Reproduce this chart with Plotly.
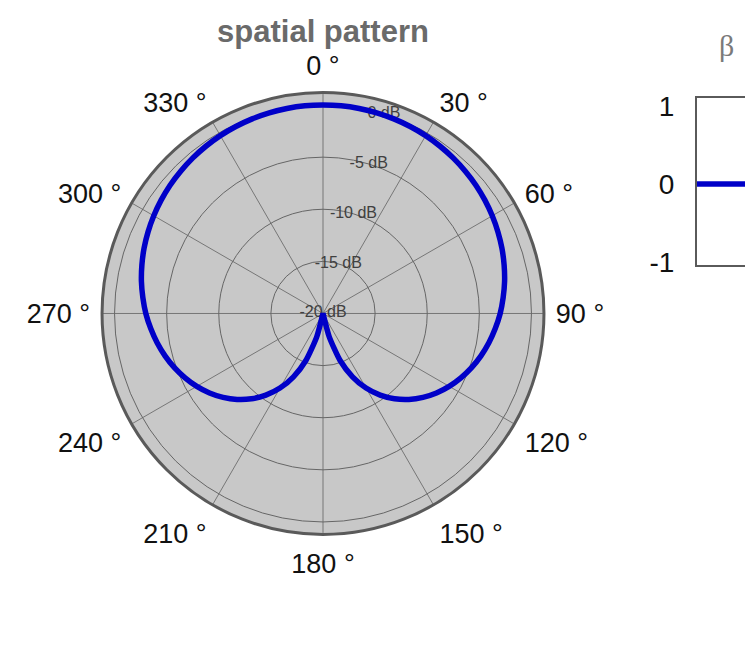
import plotly.graph_objects as go

# ---- data ----
theta_deg = [0, 5, 10, 15, 20, 25, 30, 35, 40, 45, 50, 55, 60, 65, 70, 75, 80, 85, 90,
             95, 100, 105, 110, 115, 120, 125, 130, 135, 140, 145, 150, 155, 160, 165, 170, 175, 180]
gain_db_right = [0.0, 0.0, -0.03, -0.07, -0.13, -0.21, -0.3, -0.41, -0.54, -0.69, -0.85, -1.04,
                 -1.25, -1.48, -1.73, -2.01, -2.31, -2.65, -3.0, -3.41, -3.84, -4.31, -4.83,
                 -5.4, -6.02, -6.71, -7.48, -8.34, -9.32, -10.44, -11.74, -13.3, -15.2,
                 -17.68, -20.0, -20.0, -20.0]
# full circle (left half mirrors the right half)
theta_full = theta_deg + [360 - t for t in reversed(theta_deg[:-1])]
gain_full = gain_db_right + list(reversed(gain_db_right[:-1]))

radial_ticks = [-20, -15, -10, -5, 0]
radial_labels = ["-20 dB", "-15 dB", "-10 dB", "-5 dB", "0 dB"]
angle_ticks = list(range(0, 360, 30))
angle_labels = [f"{a} °" for a in angle_ticks]

beta_x = [0, 1]
beta_y = [0, 0]
beta_ticks = [-1, 0, 1]
beta_ticktext = ["-1", "0", "1"]

W, H = 753, 648
OFF = 8  # page body margin offset compensation
BLUE = "#0000c8"


def px(x):
    return (x - OFF) / W


def py(y):
    return 1 - (y - OFF) / H


fig = go.Figure()

# radial labels along a fixed spoke (under the curve)
fig.add_trace(go.Scatterpolar(
    r=radial_ticks, theta=[17] * len(radial_ticks), mode="text",
    text=radial_labels, textposition="middle center",
    textfont=dict(family="Liberation Sans, Arial", size=16, color="#404040"),
    hoverinfo="skip", showlegend=False, subplot="polar"))

fig.add_trace(go.Scatterpolar(
    r=gain_full, theta=theta_full, mode="lines",
    line=dict(color=BLUE, width=5.5, shape="spline", smoothing=0.6),
    showlegend=False, subplot="polar"))

fig.add_trace(go.Scatter(
    x=beta_x, y=beta_y, mode="lines", line=dict(color=BLUE, width=5.5),
    showlegend=False, xaxis="x", yaxis="y"))

cx, cy, R = 323, 316, 228
fig.update_layout(
    width=W, height=H,
    margin=dict(l=0, r=0, t=0, b=0),
    paper_bgcolor="white", plot_bgcolor="white",
    font=dict(family="Liberation Sans, Arial", color="#111111"),
    title=dict(text="<b>spatial pattern</b>", x=px(cx), y=py(31),
               xanchor="center", yanchor="middle",
               font=dict(family="Liberation Sans, Arial", size=31, color="#6a6a6a")),
    polar=dict(
        domain=dict(x=[px(cx - R), px(cx + R)], y=[py(cy + R), py(cy - R)]),
        bgcolor="#c8c8c8",
        angularaxis=dict(
            rotation=90, direction="clockwise",
            tickmode="array", tickvals=angle_ticks, ticktext=angle_labels,
            tickfont=dict(size=27, color="#111111"),
            ticks="outside", ticklen=5, tickcolor="rgba(0,0,0,0)",
            showline=True, linecolor="#5a5a5a", linewidth=3,
            showgrid=True, gridcolor="#777777", gridwidth=1),
        radialaxis=dict(
            range=[-20, 1.2], tickmode="array", tickvals=[-15, -10, -5, 0],
            showticklabels=False, ticks="", showline=False,
            showgrid=True, gridcolor="#666666", gridwidth=1)),
    xaxis=dict(domain=[px(697), 1], range=[0, 1], showticklabels=False, ticks="",
               showgrid=False, zeroline=False, showline=True, mirror=True,
               linecolor="#5a5a5a", linewidth=2, fixedrange=True),
    yaxis=dict(domain=[py(266), py(94)], range=[-1.04, 1.1],
               tickmode="array", tickvals=beta_ticks, ticktext=beta_ticktext,
               tickfont=dict(size=28, color="#111111"),
               ticks="", ticklabelstandoff=15,
               showgrid=False, zeroline=False, showline=True, mirror=False,
               linecolor="#5a5a5a", linewidth=2, fixedrange=True),
    annotations=[dict(text="β", x=px(726), y=py(39), xref="paper", yref="paper",
                      showarrow=False, xanchor="center", yanchor="middle",
                      font=dict(family="Liberation Serif, Times New Roman", size=30,
                                color="#7a7a7a"))],
)

fig.write_html("out.html")
